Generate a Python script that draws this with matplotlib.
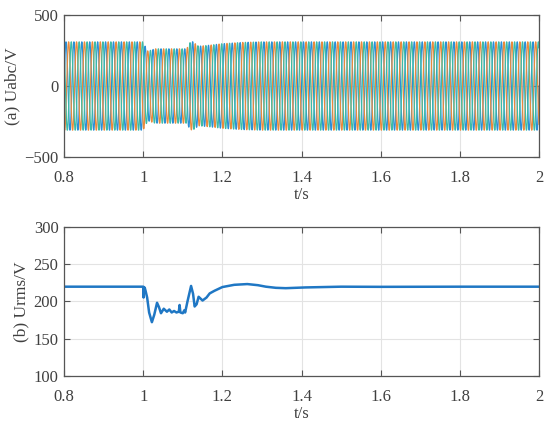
import numpy as np
import matplotlib
matplotlib.use("Agg")
import matplotlib.pyplot as plt

# ---- data ----
# envelope (peak amplitude) of the three-phase voltage
env_t = [0.8, 1.0, 1.004, 1.012, 1.03, 1.06, 1.11, 1.118, 1.125, 1.14, 1.17, 1.2, 1.25, 1.3, 2.0]
env_a = [311, 311, 285, 245, 262, 262, 262, 305, 312, 280, 288, 298, 307, 311, 311]
freq = 50.0
phases_deg = [0, -120, 120]
phase_colors = ["#2b8fd6", "#ea8a3c", "#3dbba6"]

# RMS voltage
rms_t = [0.8, 1.0, 1.001, 1.002, 1.004, 1.006, 1.01, 1.015, 1.022, 1.028, 1.035, 1.04, 1.045,
         1.052, 1.06, 1.066, 1.072, 1.078, 1.084, 1.09, 1.092, 1.094, 1.1, 1.104, 1.106,
         1.112, 1.121, 1.126, 1.13, 1.135, 1.14, 1.15, 1.16, 1.168, 1.18, 1.2, 1.23,
         1.263, 1.29, 1.31, 1.335, 1.36, 1.41, 1.5, 1.6, 1.8, 2.0]
rms_v = [219.5, 219.5, 205, 219, 218, 214, 205, 185, 172, 182, 198, 192, 184,
         190, 186, 189, 185, 187, 185, 186, 195, 185, 184, 188, 185,
         200, 220.5, 210, 193, 196, 206, 201, 205, 210.5, 214, 219, 222,
         223, 221.5, 219.5, 218, 217.5, 218.5, 219.5, 219.3, 219.5, 219.5]

xticks = [0.8, 1.0, 1.2, 1.4, 1.6, 1.8, 2.0]
xticklabels = ["0.8", "1", "1.2", "1.4", "1.6", "1.8", "2"]
yticks_a = [-500, 0, 500]
yticks_b = [100, 150, 200, 250, 300]

plt.rcParams['font.family'] = ['Liberation Serif', 'DejaVu Serif']
plt.rcParams['font.size'] = 12

fig = plt.figure(figsize=(5.5, 4.29), dpi=100)
ax1 = fig.add_axes([0.1164, 0.634, 0.8636, 0.331])
ax2 = fig.add_axes([0.1164, 0.1235, 0.8636, 0.3485])

t = np.arange(0.8, 2.0 + 1e-9, 1.0 / 20000)
amp = np.interp(t, env_t, env_a)
for ph, c in zip(phases_deg, phase_colors):
    ax1.plot(t, amp * np.sin(2 * np.pi * freq * t + np.deg2rad(ph)), color=c, lw=0.9)

ax2.plot(rms_t, rms_v, color="#1f77c4", lw=1.8)

txt = "#404040"
for ax, yt, yl, ylim in [(ax1, yticks_a, "(a) Uabc/V", (-500, 500)),
                         (ax2, yticks_b, "(b) Urms/V", (100, 300))]:
    ax.set_xlim(0.8, 2.0)
    ax.set_ylim(*ylim)
    ax.set_xticks(xticks)
    ax.set_xticklabels(xticklabels)
    ax.set_yticks(yt)
    ax.grid(True, color="#e3e3e3", lw=0.8)
    ax.set_axisbelow(True)
    ax.tick_params(direction="in", top=True, right=True, length=4, colors="#555555",
                   labelcolor=txt, labelsize=12)
    ax.tick_params(axis="x", pad=9)
    ax.tick_params(axis="y", pad=4)
    for s in ax.spines.values():
        s.set_color("#555555")
        s.set_linewidth(0.9)
    ax.set_xlabel("t/s", color=txt, fontsize=12, labelpad=1)
    ax.set_ylabel(yl, color=txt, fontsize=12.5, labelpad=3)

fig.savefig("out.png", dpi=100)
